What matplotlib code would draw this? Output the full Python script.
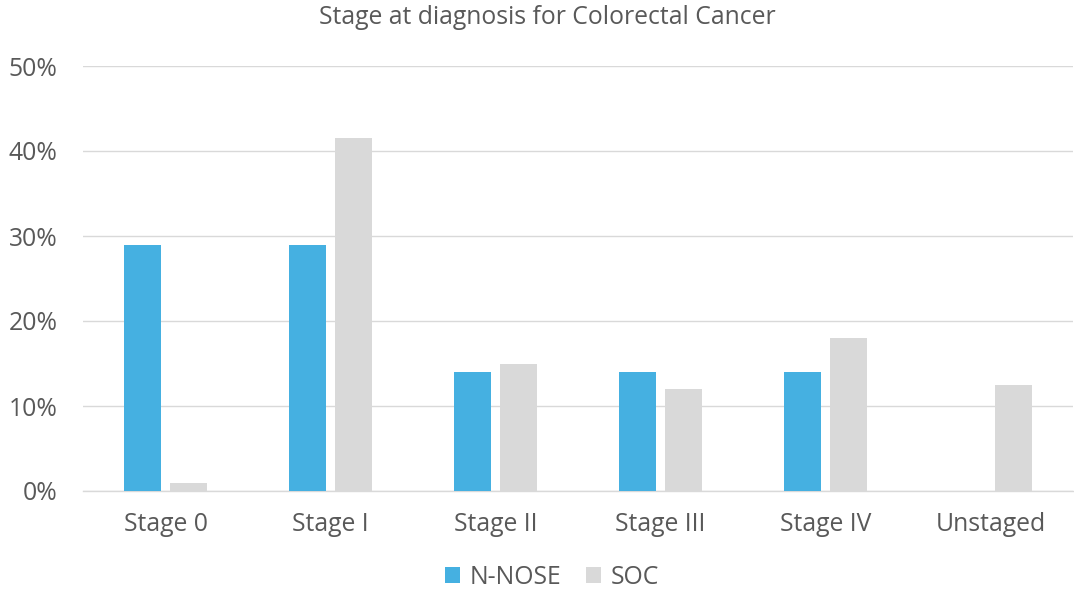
import matplotlib
matplotlib.use("Agg")
import matplotlib.pyplot as plt
import numpy as np

categories = ["Stage 0", "Stage I", "Stage II", "Stage III", "Stage IV", "Unstaged"]
n_nose = [29, 29, 14, 14, 14, 0]
soc = [1, 41.5, 15, 12, 18, 12.5]
yticks = [0, 10, 20, 30, 40, 50]
ytick_labels = ["0%", "10%", "20%", "30%", "40%", "50%"]

plt.rcParams['font.family'] = ['Open Sans', 'DejaVu Sans']
text_color = "#595959"
fs = 17.8

fig = plt.figure(figsize=(10.74, 5.92), dpi=100)
ax = fig.add_axes([83/1074, (592-491)/592, (1073-83)/1074, (491-66)/592])

x = np.arange(len(categories))
w = 0.224
off = 0.142
ax.bar(x - off, n_nose, width=w, color="#45B0E1", label="N-NOSE", zorder=3)
ax.bar(x + off, soc, width=w, color="#D9D9D9", label="SOC", zorder=3)

ax.set_xlim(-0.5, len(categories) - 0.5)
ax.set_ylim(0, 50)
ax.set_yticks(yticks)
ax.set_yticklabels(ytick_labels, fontsize=fs, color=text_color)
ax.set_xticks(x)
ax.set_xticklabels(categories, fontsize=fs, color=text_color)
ax.tick_params(axis='both', length=0)
ax.tick_params(axis='y', pad=18.5)
ax.tick_params(axis='x', pad=15)
ax.grid(axis='y', color="#D9D9D9", linewidth=1, zorder=0)
for s in ["top", "right", "left"]:
    ax.spines[s].set_visible(False)
ax.spines["bottom"].set_color("#D9D9D9")
ax.spines["bottom"].set_linewidth(1)

fig.text(547/1074, 1 - 18/592, "Stage at diagnosis for Colorectal Cancer",
         ha="center", va="center", fontsize=fs, color=text_color)

leg = fig.legend(loc="center", bbox_to_anchor=(552/1074, 1 - 577/592), ncol=2,
                 frameon=False, fontsize=fs, handlelength=0.6, handleheight=0.6,
                 handletextpad=0.4, columnspacing=1.0)
for t in leg.get_texts():
    t.set_color(text_color)

fig.savefig("out.png", dpi=100, facecolor="white")
